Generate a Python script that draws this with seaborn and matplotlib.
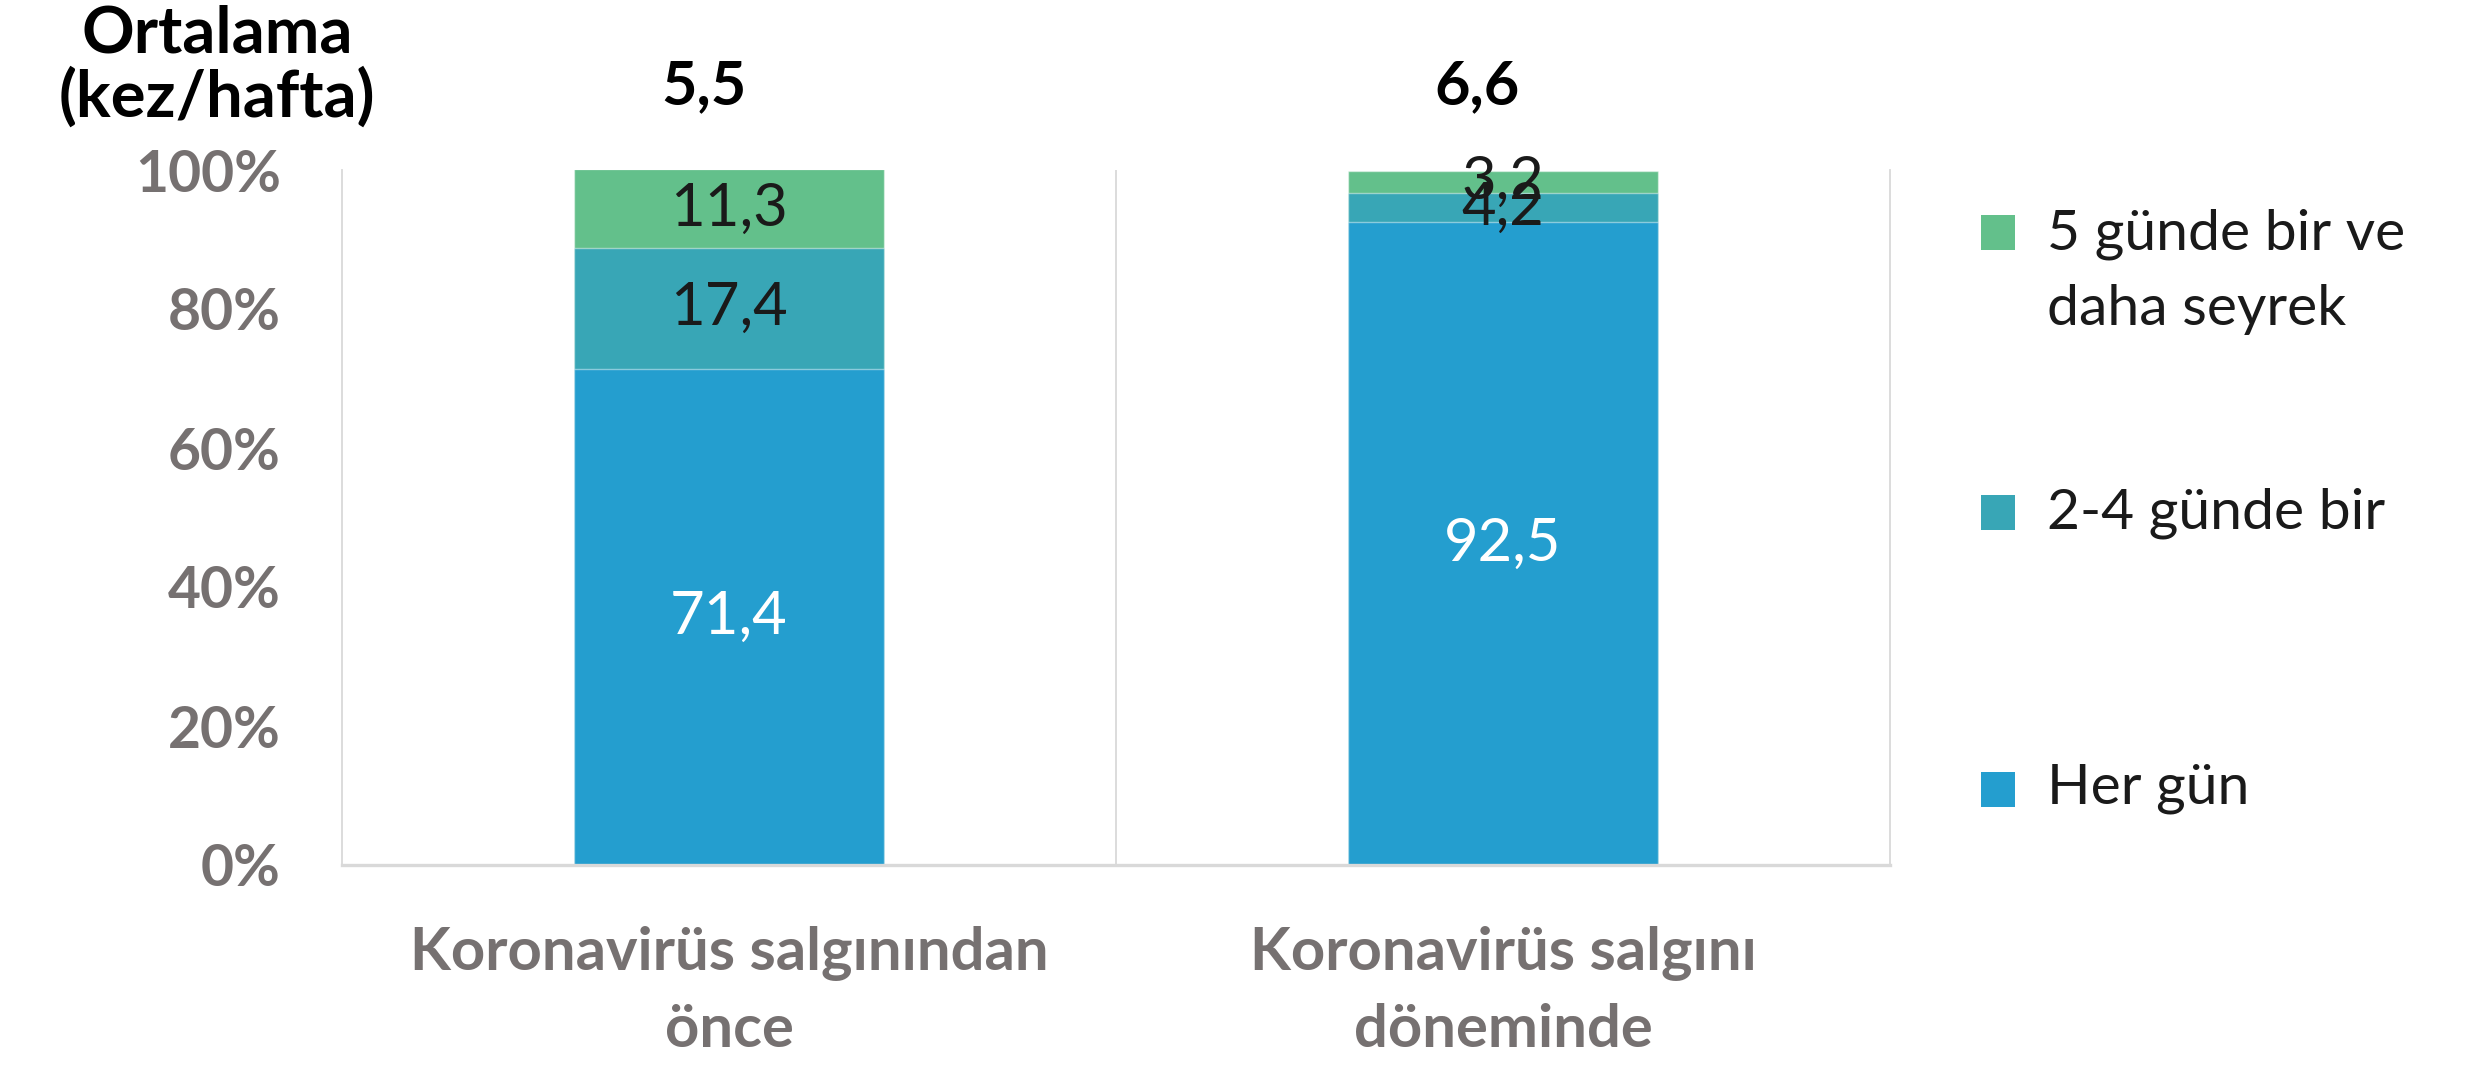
import matplotlib
matplotlib.use("Agg")
import matplotlib.pyplot as plt
import matplotlib.transforms as mtransforms
from matplotlib.patches import Rectangle
import seaborn as sns
import pandas as pd

# ---------------- data ----------------
categories = ["Koronavirüs salgınından\nönce", "Koronavirüs salgını\ndöneminde"]
her_gun = [71.4, 92.5]
iki_dort_gunde = [17.4, 4.2]
bes_gunde_seyrek = [11.3, 3.2]
averages = ["5,5", "6,6"]
series_names = ["Her gün", "2-4 günde bir", "5 günde bir ve\ndaha seyrek"]
y_ticks = [0, 20, 40, 60, 80, 100]
y_tick_labels = ["0%", "20%", "40%", "60%", "80%", "100%"]
avg_title = "Ortalama\n(kez/hafta)"

colors = {"Her gün": "#249ECF", "2-4 günde bir": "#38A6B6",
          "5 günde bir ve\ndaha seyrek": "#63C08B"}
label_colors = {"Her gün": "white", "2-4 günde bir": "#1a1a1a",
                "5 günde bir ve\ndaha seyrek": "#1a1a1a"}

sns.set_theme(style="white")
plt.rcParams['font.family'] = ['Lato', 'DejaVu Sans']

W, H = 2474, 1067
fig = plt.figure(figsize=(W / 100, H / 100), dpi=100)
ax = fig.add_axes([342 / W, 1 - 865 / H, (1890 - 342) / W, (865 - 170) / H])

df = pd.DataFrame({"cat": categories,
                   "Her gün": her_gun,
                   "2-4 günde bir": iki_dort_gunde,
                   "5 günde bir ve\ndaha seyrek": bes_gunde_seyrek})
cum1 = df["Her gün"]
cum2 = cum1 + df["2-4 günde bir"]
cum3 = cum2 + df["5 günde bir ve\ndaha seyrek"]

for cum, name in [(cum3, series_names[2]), (cum2, series_names[1]), (cum1, series_names[0])]:
    sns.barplot(x=df["cat"], y=cum, color=colors[name], saturation=1, width=0.4,
                edgecolor=(1, 1, 1, 0.45), linewidth=1.0, ax=ax, errorbar=None)

# segment labels
bottoms = [0 * cum1, cum1, cum2]
for name, bot in zip(series_names, bottoms):
    for i in range(len(categories)):
        v = df[name].iloc[i]
        ax.text(i, bot.iloc[i] + v / 2, f"{v:.1f}".replace(".", ","),
                ha="center", va="center", fontsize=43, color=label_colors[name])

ax.set_xlim(-0.5, 1.5)
ax.set_ylim(0, 100)
ax.set_xlabel("")
ax.set_ylabel("")
ax.set_yticks(y_ticks)
ax.set_yticklabels(y_tick_labels)
ax.set_xticks(range(len(categories)))
ax.set_xticklabels(categories, linespacing=1.5)
ax.set_xticks([-0.5, 0.5, 1.5], minor=True)

grid_col = "#d9d9d9"
tick_col = "#767171"
ax.tick_params(axis="y", which="both", length=0, pad=44, labelsize=41,
               labelcolor=tick_col)
ax.tick_params(axis="x", which="major", length=0, pad=44, labelsize=43,
               labelcolor=tick_col)
ax.tick_params(axis="x", which="minor", length=16, width=1.3, color=grid_col,
               direction="out")
for lab in ax.get_yticklabels() + ax.get_xticklabels():
    lab.set_fontweight("bold")

for s in ["left", "right"]:
    ax.spines[s].set_color(grid_col)
    ax.spines[s].set_linewidth(1.3)
ax.spines["top"].set_visible(False)
ax.spines["bottom"].set_color(grid_col)
ax.spines["bottom"].set_linewidth(2.4)
ax.axvline(0.5, color=grid_col, lw=1.3, zorder=0)
ax.grid(False)

# title of averages
fig.text(217 / W, 1 - 66 / H, avg_title, ha="center", va="center",
         fontsize=47, fontweight="bold", color="black", linespacing=1.05)
trans = mtransforms.blended_transform_factory(ax.transData, fig.transFigure)
for i, a in enumerate(averages):
    fig.text(i - 0.033, 1 - 86 / H, a, transform=trans, ha="center", va="center",
             fontsize=44, fontweight="bold", color="black")

# legend (manual placement to match spacing)
leg_entries = [(series_names[2], 232), (series_names[1], 513), (series_names[0], 789)]
msz = 35
for name, yc in leg_entries:
    fig.patches.append(Rectangle(((1998 - msz / 2) / W, 1 - (yc + msz / 2) / H),
                                 msz / W, msz / H, transform=fig.transFigure,
                                 facecolor=colors[name], edgecolor="none"))
    lines = name.split("\n")
    n = len(lines)
    fig.text(2047 / W, 1 - (yc + (n - 1) * 79 / 2) / H, name, ha="left",
             va="center", fontsize=41, color="#1a1a1a", linespacing=1.58)

fig.savefig("out.png", dpi=100)
